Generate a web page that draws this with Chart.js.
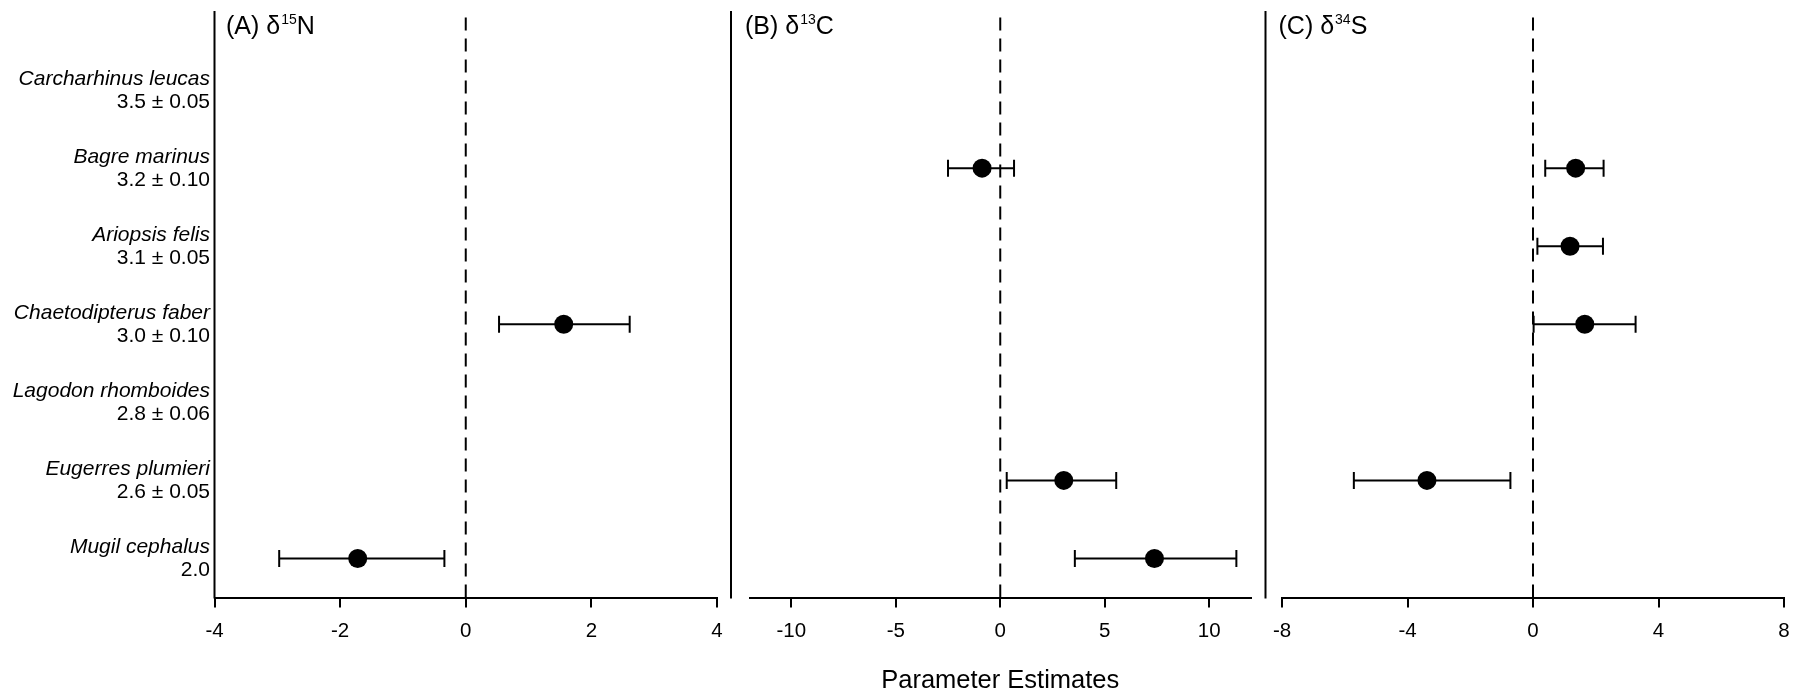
<!DOCTYPE html>
<html><head><meta charset="utf-8">
<script src="https://cdn.jsdelivr.net/npm/chart.js@4.4.1/dist/chart.umd.min.js"></script>
<style>
html,body{margin:0;padding:0;background:#fff;}
#wrap{position:relative;width:1796px;height:693px;overflow:hidden;}
canvas{position:absolute;left:0;top:0;}
</style></head><body><div id="wrap">
<canvas id="cA" width="1796" height="693"></canvas>
<canvas id="cB" width="1796" height="693"></canvas>
<canvas id="cC" width="1796" height="693"></canvas>
</div>
<script>
const species = ['Carcharhinus leucas','Bagre marinus','Ariopsis felis','Chaetodipterus faber','Lagodon rhomboides','Eugerres plumieri','Mugil cephalus'];
const trophicLevels = ['3.5 ± 0.05','3.2 ± 0.10','3.1 ± 0.05','3.0 ± 0.10','2.8 ± 0.06','2.6 ± 0.05','2.0'];

const nEst = [null, null, null, 1.56, null, null, -1.72];
const nLo  = [null, null, null, 0.53, null, null, -2.97];
const nHi  = [null, null, null, 2.61, null, null, -0.34];

const cEst = [null, -0.87, null, null, null, 3.04, 7.38];
const cLo  = [null, -2.50, null, null, null, 0.31, 3.57];
const cHi  = [null, 0.66, null, null, null, 5.55, 11.30];

const sEst = [null, 1.36, 1.18, 1.65, null, -3.38, null];
const sLo  = [null, 0.39, 0.14, 0.02, null, -5.71, null];
const sHi  = [null, 2.25, 2.23, 3.27, null, -0.72, null];

const nTicks = [-4, -2, 0, 2, 4];
const cTicks = [-10, -5, 0, 5, 10];
const sTicks = [-8, -4, 0, 4, 8];

const panelTitles = [['(A) δ','15','N'], ['(B) δ','13','C'], ['(C) δ','34','S']];
const xLabel = 'Parameter Estimates';

const FONT = "'Liberation Sans', Arial, sans-serif";

function makePanel(id, est, lo, hi, ticks, xmin, xmax, padL, padR, lineOffset, title, titleDx, withLabels, showXTitle) {
  const nRows = species.length;
  const ds = [];
  ds.push({type:'line', data:[{x:0,y:0.5},{x:0,y:8}], borderColor:'#000', borderWidth:2,
           borderDash:[13,8], pointRadius:0, order:3});
  est.forEach((v,i)=>{
    if (v === null) return;
    const y = nRows - i;
    ds.push({type:'line', data:[{x:lo[i],y:y},{x:hi[i],y:y}], borderColor:'#000', borderWidth:2,
             pointStyle:'line', rotation:90, pointRadius:8.5, pointBorderColor:'#000',
             pointBorderWidth:2, order:2});
  });
  ds.push({type:'scatter', data: est.map((v,i)=> v===null ? null : {x:v, y:nRows - i}).filter(p=>p),
           pointRadius:9.5, backgroundColor:'#000', borderColor:'#000', borderWidth:0, order:0});

  const decor = {
    id:'decor'+id,
    afterDraw(chart){
      const ctx = chart.ctx, a = chart.chartArea, ys = chart.scales.y;
      ctx.save();
      ctx.strokeStyle = '#000'; ctx.lineWidth = 2;
      const lx = a.left + lineOffset;
      ctx.beginPath(); ctx.moveTo(lx, 11); ctx.lineTo(lx, a.bottom + 1); ctx.stroke();
      ctx.fillStyle = '#000';
      ctx.textBaseline = 'alphabetic'; ctx.textAlign = 'left';
      let tx = lx + titleDx; const ty = 34;
      ctx.font = '25px ' + FONT;
      ctx.fillText(title[0], tx, ty); tx += ctx.measureText(title[0]).width + 1;
      ctx.font = '14px ' + FONT;
      ctx.fillText(title[1], tx, ty - 10); tx += ctx.measureText(title[1]).width;
      ctx.font = '25px ' + FONT;
      ctx.fillText(title[2], tx, ty);
      if (withLabels) {
        ctx.textAlign = 'right';
        species.forEach((s,i)=>{
          const py = ys.getPixelForValue(nRows - i);
          ctx.font = 'italic 21px ' + FONT;
          ctx.fillText(s, 210, py - 5);
          ctx.font = '21px ' + FONT;
          ctx.fillText(trophicLevels[i], 210, py + 18);
        });
      }
      ctx.restore();
    }
  };

  return new Chart(document.getElementById(id), {
    type:'scatter',
    data:{datasets:ds},
    options:{
      responsive:false, animation:false, devicePixelRatio:1,
      layout:{padding:{left:padL, right:padR, top:12, bottom:0.5}},
      plugins:{legend:{display:false}, tooltip:{enabled:false}},
      scales:{
        x:{type:'linear', position:'bottom', min:xmin, max:xmax,
           afterBuildTicks: s => { s.ticks = ticks.map(v=>({value:v})); },
           afterFit: s => { s.height = 95; },
           grid:{display:true, drawOnChartArea:false, drawTicks:true, tickLength:10, color:'#000', lineWidth:2},
           border:{display:true, color:'#000', width:2},
           ticks:{color:'#000', font:{family:FONT, size:20.5, lineHeight:2.32}, padding:0, maxRotation:0, autoSkip:false},
           title:{display:showXTitle, text:xLabel, color:'#000', font:{family:FONT, size:25.5, lineHeight:0.9}, padding:{top:0, bottom:0}}
        },
        y:{type:'linear', display:false, min:0.5, max:8}
      }
    },
    plugins:[decor]
  });
}

makePanel('cA', nEst, nLo, nHi, nTicks, -4, 4, 214.5, 1796-717, 0, panelTitles[0], 11.5, true, false);
makePanel('cB', cEst, cLo, cHi, cTicks, -12, 12, 749.5, 1796-1251, -18.5, panelTitles[1], 14, false, true);
makePanel('cC', sEst, sLo, sHi, sTicks, -8, 8, 1282, 1796-1784, -16.5, panelTitles[2], 13, false, false);
</script>
</body></html>
